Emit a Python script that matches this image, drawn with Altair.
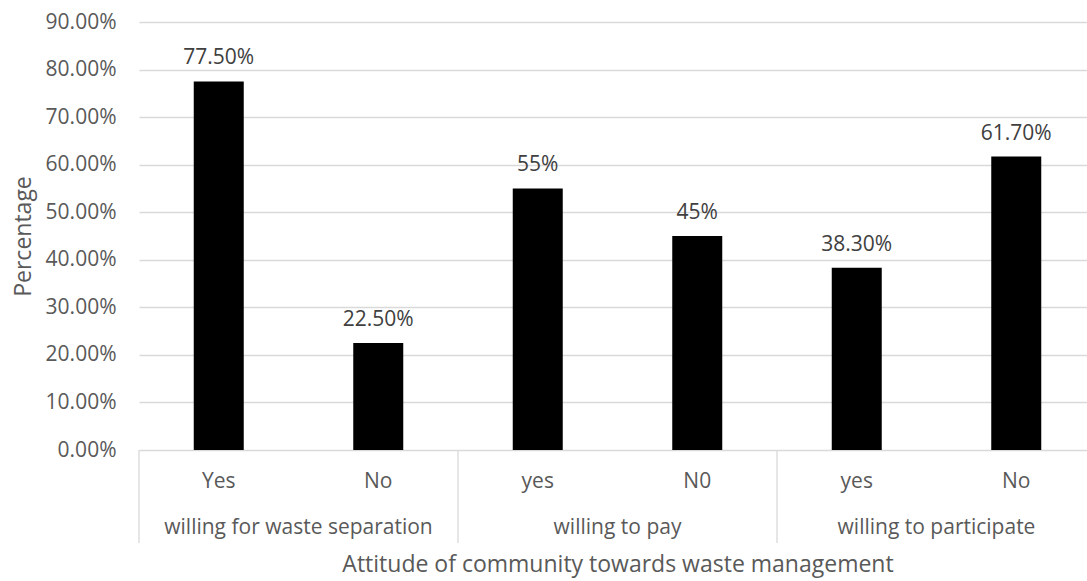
import altair as alt
import pandas as pd

# Survey answers, grouped by question
groups = [
    "willing for waste separation", "willing for waste separation",
    "willing to pay", "willing to pay",
    "willing to participate", "willing to participate",
]
answers = ["Yes", "No", "yes", "N0", "yes", "No"]
values = [0.775, 0.225, 0.55, 0.45, 0.383, 0.617]
value_labels = ["77.50%", "22.50%", "55%", "45%", "38.30%", "61.70%"]
y_ticks = [0.0, 0.1, 0.2, 0.3, 0.4, 0.5, 0.6, 0.7, 0.8, 0.9]

W, H = 948, 428
FONT = "Open Sans"
AXIS_GREY = "#595959"
LABEL_GREY = "#404040"
LINE_GREY = "#d9d9d9"

bars_df = pd.DataFrame({
    "pos": list(range(len(answers))),
    "group": groups,
    "answer": answers,
    "value": values,
    "label": value_labels,
})

# one row per question: centre of its bars and its left boundary
grp = bars_df.groupby("group", sort=False)["pos"]
group_df = pd.DataFrame({
    "group": list(grp.groups.keys()),
    "center": grp.mean().values,
})
bounds = list(grp.min().values - 0.5) + [bars_df["pos"].max() + 0.5]
bounds_df = pd.DataFrame({"edge": bounds})

x_scale = alt.Scale(domain=[-0.5, 5.5], range=[0, 957], nice=False, zero=False, padding=0)
y_scale = alt.Scale(domain=[0, 0.9], nice=False)

base = alt.Chart(bars_df)

bars = base.mark_bar(color="black", size=50).encode(
    x=alt.X("pos:Q", scale=x_scale,
            axis=alt.Axis(labels=False, ticks=False, domain=False, grid=False,
                          title="Attitude of community towards waste management",
                          titleFont=FONT, titleFontSize=23, titleFontWeight="normal",
                          titleColor=AXIS_GREY, titleBaseline="middle", titleY=114)),
    y=alt.Y("value:Q", scale=y_scale,
            axis=alt.Axis(values=y_ticks, format=".2%", ticks=False, tickSize=0,
                          domain=False, grid=True, gridColor=LINE_GREY, gridWidth=1.3,
                          labelFont=FONT, labelFontSize=21, labelColor=AXIS_GREY,
                          labelPadding=23,
                          title="Percentage", titleFont=FONT, titleFontSize=23,
                          titleFontWeight="normal", titleColor=AXIS_GREY,
                          titleAngle=270, titleX=-116, titleY=214,
                          titleAlign="center", titleBaseline="middle")),
)

value_text = base.mark_text(font=FONT, fontSize=21, color=LABEL_GREY,
                            baseline="alphabetic", dy=-17).encode(
    x=alt.X("pos:Q", scale=x_scale),
    y=alt.Y("value:Q", scale=y_scale),
    text="label:N",
)

answer_text = base.mark_text(font=FONT, fontSize=21, color=AXIS_GREY,
                             baseline="middle").encode(
    x=alt.X("pos:Q", scale=x_scale),
    y=alt.value(H + 32),
    text="answer:N",
)

group_text = alt.Chart(group_df).mark_text(font=FONT, fontSize=21, color=AXIS_GREY,
                                           baseline="middle").encode(
    x=alt.X("center:Q", scale=x_scale),
    y=alt.value(H + 78),
    text="group:N",
)

dividers = alt.Chart(bounds_df).mark_rule(color=LINE_GREY, strokeWidth=1.3).encode(
    x=alt.X("edge:Q", scale=x_scale),
    y=alt.value(H),
    y2=alt.value(H + 93),
)

chart = alt.layer(bars, value_text, answer_text, group_text, dividers).properties(
    width=W,
    height=H,
    autosize=alt.AutoSizeParams(type="none"),
    padding={"left": 139, "top": 22, "right": 0, "bottom": 131},
    background="white",
).configure_view(stroke=None)

chart.save("out.html", embed_options={"renderer": "svg", "actions": False})
